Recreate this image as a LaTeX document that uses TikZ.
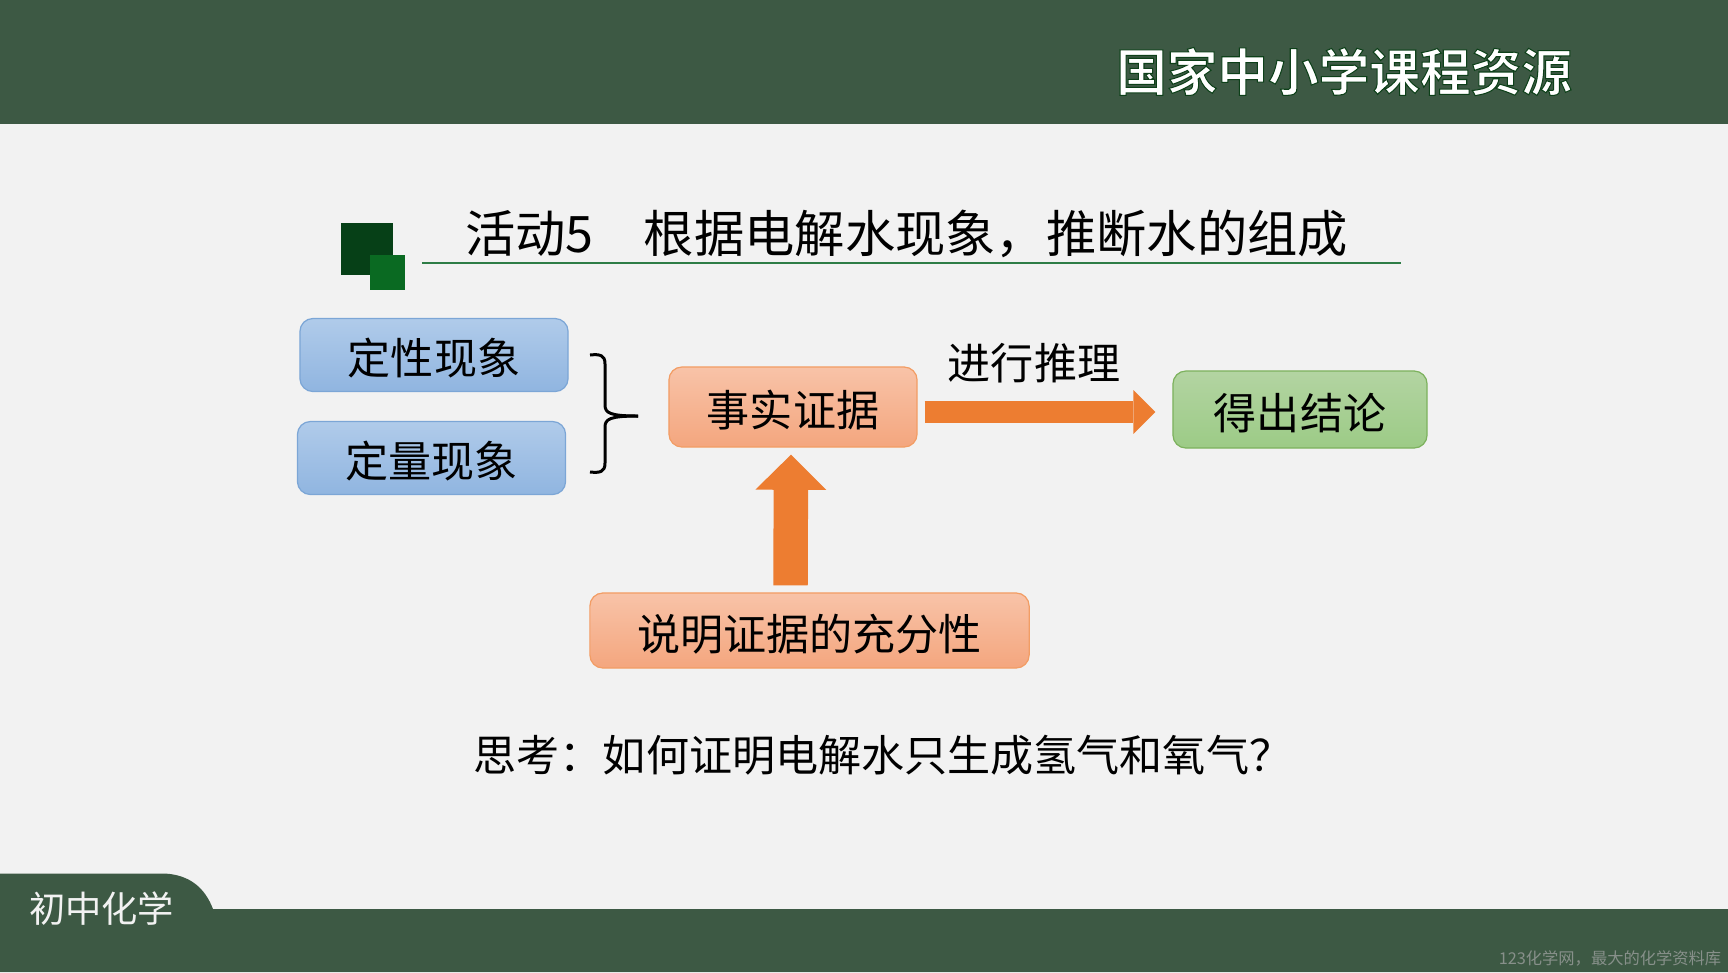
\documentclass[tikz,border=0pt]{standalone}
\usepackage{fontspec}
\setmainfont{Noto Sans CJK SC}
\newfontfamily\headfont{Noto Sans CJK SC Bold}
\usetikzlibrary{arrows.meta}
\definecolor{bandgreen}{HTML}{3D5944}
\definecolor{pagegrey}{HTML}{F2F2F2}
\definecolor{squaredark}{HTML}{064017}
\definecolor{squarelight}{HTML}{0A6A22}
\definecolor{rulegreen}{HTML}{2E7D46}
\definecolor{arroworange}{HTML}{ED7D31}
\definecolor{sourcegrey}{HTML}{87908A}
\tikzset{
  phasebox/.style={draw, rounded corners=0.13cm, line width=0.35pt, inner sep=0pt, text=black, text height=12.5pt, text depth=1.4pt, font=\fontsize{12.25}{14}\selectfont},
  bluebox/.style={phasebox, draw={rgb,255:red,124;green,166;blue,214}, top color={rgb,255:red,176;green,203;blue,234}, bottom color={rgb,255:red,144;green,181;blue,224}, minimum width=2.68cm, minimum height=0.73cm},
  orangebox/.style={phasebox, draw=arroworange!75, top color={rgb,255:red,248;green,195;blue,168}, bottom color={rgb,255:red,244;green,166;blue,126}},
  greenbox/.style={phasebox, draw={rgb,255:red,125;green,178;blue,94}, top color={rgb,255:red,179;green,212;blue,162}, bottom color={rgb,255:red,156;green,203;blue,134}},
  plaintext/.style={inner sep=0pt, text=black},
}
\begin{document}
\begin{tikzpicture}[x=0.01cm,y=-0.01cm]
\useasboundingbox (0,0) rectangle (1728,972);
\fill[pagegrey] (0,0) rectangle (1728,972);
\fill[bandgreen] (0,0) rectangle (1728,124);
\fill[bandgreen] (0,972) -- (0,873.5) -- (165,873.5) .. controls (190,875) and (205,888) .. (213,909) -- (1728,909) -- (1728,972) -- cycle;
\fill[squaredark] (341,223) rectangle (393,275);
\fill[squarelight] (370,255) rectangle (405,290);
\node (header) at (1344,71.5) [inner sep=0pt, text=white, font=\headfont\fontsize{14.4}{16}\selectfont] {\special{pdf:code 2 Tr 0.3 w 0.05 0.25 0.1 RG}国家中小学课程资源\special{pdf:code 0 Tr 0 G}};
\node (course) at (101.5,909) [inner sep=0pt, text=pagegrey, font=\fontsize{10.3}{12}\selectfont] {初中化学};
\node (source) at (1610,958) [inner sep=0pt, text=sourcegrey, font=\fontsize{4.63}{5}\selectfont] {123化学网，最大的化学资料库};
\node (title) at (906.5,234) [plaintext, font=\fontsize{14.3}{16}\selectfont] {活动5　根据电解水现象，推断水的组成};
\coordinate (ruleleft) at (422,263);
\coordinate (ruleright) at (1401,263);
\draw[rulegreen, line width=0.55pt] (ruleleft) -- (ruleright);
\node (quality) at (434,355) [bluebox] {定性现象};
\node (quantity) at (431.5,458) [bluebox] {定量现象};
\node (evidence) at (793,407) [orangebox, minimum width=2.48cm, minimum height=0.80cm] {事实证据};
\node (adequacy) at (809.5,630.5) [orangebox, minimum width=4.39cm, minimum height=0.75cm] {说明证据的充分性};
\node (conclusion) at (1300,409.5) [greenbox, minimum width=2.54cm, minimum height=0.77cm] {得出结论};
\node (reason) at (1034,363) [plaintext, font=\fontsize{12.25}{14}\selectfont] {进行推理};
\node (question) at (473,755) [plaintext, anchor=west, font=\fontsize{12.25}{14}\selectfont] {思考：如何证明电解水只生成氢气和氧气？};
\coordinate (bracetop) at (590,355);
\coordinate (bracetip) at (638,416);
\coordinate (bracebot) at (590,472);
\draw[black, line width=0.85pt] (bracetop) .. controls (600,354) and (605,355) .. (605,364) -- (605,405) .. controls (605,413) and (610,416) .. (bracetip);
\draw[black, line width=0.85pt] (bracebot) .. controls (600,473) and (605,472) .. (605,463) -- (605,427) .. controls (605,419) and (610,416) .. (bracetip);
\draw[arroworange, line width=6.26pt, -{Triangle[length=6.26pt,width=12.5pt,line width=0pt]}] ([shift={(7,5)}]evidence.east) -- ([shift={(-17,2.5)}]conclusion.west);
\draw[arroworange, line width=9.8pt, -{Triangle[length=10pt,width=20.2pt,line width=0pt]}] ([shift={(-19,-7)}]adequacy.north) -- ([shift={(-2,7)}]evidence.south);
\end{tikzpicture}
\end{document}
